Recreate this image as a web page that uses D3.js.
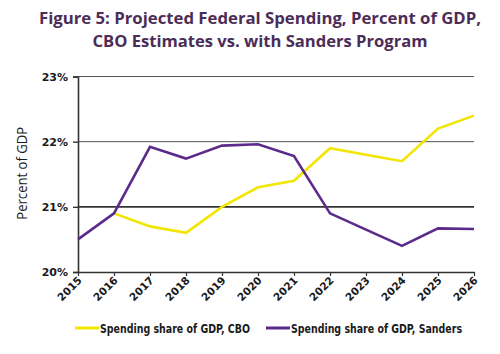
<!DOCTYPE html>
<html>
<head>
<meta charset="utf-8">
<script src="https://cdn.jsdelivr.net/npm/d3@7"></script>
<style>
  html, body { margin: 0; padding: 0; background: #fff; }
  svg { display: block; }
</style>
</head>
<body>
<div id="vis"></div>
<script>
// data
var years = [2015, 2016, 2017, 2018, 2019, 2020, 2021, 2022, 2023, 2024, 2025, 2026]
var cbo = [null, 20.9, 20.7, 20.6, 21.0, 21.3, 21.4, 21.9, 21.8, 21.7, 22.2, 22.4]
var sanders = [20.5, 20.9, 21.92, 21.74, 21.94, 21.96, 21.78, 20.9, 20.65, 20.4, 20.67, 20.66]
var yTicks = [20, 21, 22, 23]
var seriesNames = ["Spending share of GDP, CBO", "Spending share of GDP, Sanders"]
var colors = ["#f2e600", "#5b2a8a"]

var W = 500, H = 354
var margin = { top: 76.5, right: 26, bottom: 82, left: 78 }
var width = W - margin.left - margin.right,
    height = H - margin.top - margin.bottom

var svg = d3.select("#vis").append("svg")
    .attr("width", W)
    .attr("height", H)

// title
var title = svg.append("g")
    .attr("fill", "#4b2d57")
    .attr("font-family", "Open Sans")
    .attr("font-weight", "700")
    .attr("font-size", "16.5px")
    .attr("text-anchor", "middle")
title.append("text").attr("x", 260).attr("y", 24)
    .attr("textLength", 442).attr("lengthAdjust", "spacingAndGlyphs")
    .text("Figure 5: Projected Federal Spending, Percent of GDP,")
title.append("text").attr("x", 260).attr("y", 47)
    .attr("textLength", 335).attr("lengthAdjust", "spacingAndGlyphs")
    .text("CBO Estimates vs. with Sanders Program")

var g = svg.append("g")
    .attr("transform", "translate(" + margin.left + "," + margin.top + ")")

var x = d3.scalePoint()
    .domain(years)
    .range([0, width])

var y = d3.scaleLinear()
    .domain([20, 23])
    .range([height, 0])

// gridlines
g.selectAll(".grid")
    .data(yTicks.filter(function (d) { return d > 20 }))
    .enter()
    .append("line")
    .attr("x1", 0)
    .attr("x2", width)
    .attr("y1", function (d) { return y(d) })
    .attr("y2", function (d) { return y(d) })
    .attr("stroke", function (d) { return d == 21 ? "#333" : "#555" })
    .attr("stroke-width", function (d) { return d == 21 ? 1.6 : 1 })

// y axis
var yAxis = g.append("g")
    .call(d3.axisLeft(y).tickValues(yTicks).tickSize(5).tickPadding(5)
        .tickFormat(function (d) { return d + "%" }))
yAxis.select("path.domain").attr("stroke", "#333").attr("stroke-width", 1.6)
yAxis.selectAll(".tick line").attr("stroke", "#333").attr("stroke-width", 1.4)
yAxis.selectAll("text")
    .attr("fill", "#1a1a1a")
    .style("font-family", "DejaVu Sans")
    .style("font-weight", "700")
    .style("font-size", "11px")

// x axis
var xAxis = g.append("g")
    .attr("transform", "translate(0," + height + ")")
    .call(d3.axisBottom(x).tickSize(4).tickSizeOuter(0))
xAxis.select("path.domain").attr("stroke", "#333").attr("stroke-width", 1.6)
xAxis.selectAll(".tick line").attr("stroke", "#333").attr("stroke-width", 1.2)
xAxis.selectAll("text")
    .attr("fill", "#1a1a1a")
    .attr("dy", null)
    .attr("y", 0)
    .attr("x", 0)
    .attr("transform", "translate(4,9) rotate(-45)")
    .style("text-anchor", "end")
    .style("font-family", "DejaVu Sans")
    .style("font-weight", "700")
    .style("font-size", "10.5px")

// y axis title
svg.append("text")
    .attr("transform", "translate(27," + (margin.top + height / 2 - 1) + ")rotate(-90)")
    .attr("text-anchor", "middle")
    .attr("fill", "#1a1a1a")
    .attr("font-family", "Open Sans")
    .attr("font-size", "14px")
    .attr("textLength", 93)
    .attr("lengthAdjust", "spacingAndGlyphs")
    .text("Percent of GDP")

// lines
var line = d3.line()
    .defined(function (d) { return d[1] != null })
    .x(function (d) { return x(d[0]) })
    .y(function (d) { return y(d[1]) })

;[cbo, sanders].forEach(function (vals, i) {
    g.append("path")
        .datum(years.map(function (yr, j) { return [yr, vals[j]] }))
        .attr("fill", "none")
        .attr("stroke", colors[i])
        .attr("stroke-width", 2.6)
        .attr("stroke-linejoin", "miter")
        .attr("d", line)
})

// legend
var legendX = [75, 266]
var legendLen = [150, 171]
var legend = svg.selectAll(".legend")
    .data(seriesNames)
    .enter()
    .append("g")
    .attr("transform", function (d, i) { return "translate(" + legendX[i] + ",328)" })
legend.append("line")
    .attr("x1", 0).attr("x2", 24)
    .attr("stroke", function (d, i) { return colors[i] })
    .attr("stroke-width", 3)
legend.append("text")
    .attr("x", 25)
    .attr("y", 4.5)
    .attr("fill", "#1a1a1a")
    .attr("font-family", "DejaVu Sans Condensed")
    .attr("font-weight", "700")
    .attr("font-size", "12px")
    .attr("textLength", function (d, i) { return legendLen[i] })
    .attr("lengthAdjust", "spacingAndGlyphs")
    .text(function (d) { return d })
</script>
</body>
</html>
